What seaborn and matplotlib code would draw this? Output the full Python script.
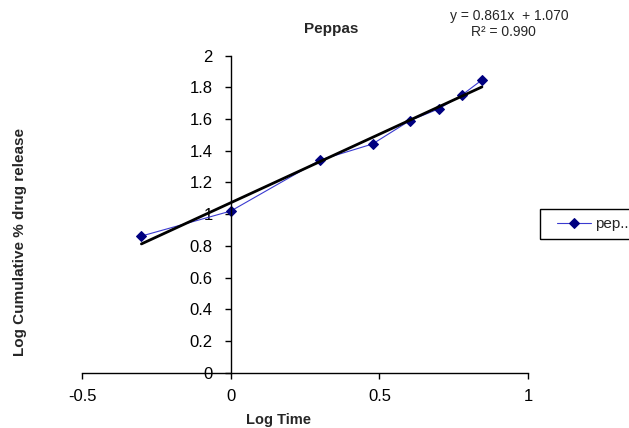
import numpy as np
import pandas as pd
import matplotlib
matplotlib.use("Agg")
import matplotlib.pyplot as plt
from matplotlib.patches import Rectangle
import seaborn as sns

# data (log of time in h, log of cumulative % released)
log_time = [-0.301, 0.0, 0.301, 0.477, 0.602, 0.699, 0.778, 0.845]
log_release = [0.862, 1.020, 1.342, 1.443, 1.590, 1.664, 1.752, 1.847]
x_ticks = [-0.5, 0, 0.5, 1]
y_ticks = [0, 0.2, 0.4, 0.6, 0.8, 1, 1.2, 1.4, 1.6, 1.8, 2]
series_name = "pep.."
eq_text = "y = 0.861x  + 1.070"
r2_text = "R² = 0.990"

df = pd.DataFrame({"log_time": log_time, "log_release": log_release})

sns.set_style("white")
plt.rcParams["font.family"] = ["Liberation Sans", "DejaVu Sans"]

fig = plt.figure(figsize=(6.29, 4.28), dpi=100)
ax = fig.add_axes([0.1308, 0.1292, 0.7086, 0.7407])

# measured series, thin line with diamonds
sns.lineplot(data=df, x="log_time", y="log_release", ax=ax, color="#3a3ad0",
             linewidth=0.8, marker="D", markersize=5.5,
             markerfacecolor="#000080", markeredgecolor="#000080")
# linear trendline fitted to the points
sns.regplot(data=df, x="log_time", y="log_release", ax=ax, scatter=False,
            ci=None, color="black", line_kws={"linewidth": 2})

ax.set_xlim(-0.5, 1)
ax.set_ylim(0, 2)
ax.set_xticks(x_ticks)
ax.set_yticks(y_ticks)
ax.set_xticklabels(["%g" % t for t in x_ticks])
ax.set_yticklabels(["%g" % t for t in y_ticks])

ax.spines["left"].set_position(("data", 0))
ax.spines["bottom"].set_position(("data", 0))
ax.spines["top"].set_visible(False)
ax.spines["right"].set_visible(False)
for s in ["left", "bottom"]:
    ax.spines[s].set_color("black")
    ax.spines[s].set_linewidth(1)
ax.tick_params(axis="both", direction="out", length=4, width=1,
               color="black", labelsize=12, labelcolor="black")
ax.tick_params(axis="x", pad=8, bottom=True)
ax.tick_params(axis="y", pad=9, left=True)

ax.set_xlabel("Log Time", fontsize=10.5, fontweight="bold")
ax.set_ylabel("Log Cumulative % drug release", fontsize=11, fontweight="bold")
ax.xaxis.label.set_verticalalignment("center")
ax.yaxis.label.set_verticalalignment("center")
ax.xaxis.set_label_coords(0.441, -0.149)
ax.yaxis.set_label_coords(-0.140, 0.411)

fig.text(331 / 629, 1 - 29 / 428, "Peppas", ha="center", va="center",
         fontsize=11, fontweight="bold")
fig.text(569 / 629, 1 - 16 / 428, eq_text, ha="right", va="center", fontsize=10)
fig.text(503 / 629, 1 - 32 / 428, r2_text, ha="center", va="center", fontsize=10)

# legend, clipped at the right edge like the original
handle = ax.get_lines()[0]
fig.legend([handle], [series_name], loc="center left",
           bbox_to_anchor=(557 / 629, 1 - 224 / 428), frameon=False,
           borderpad=0, borderaxespad=0, handlelength=2.2, handletextpad=0.3,
           fontsize=11)
fig.add_artist(Rectangle((540 / 629, 1 - 239 / 428), 100 / 629, 30 / 428,
                         transform=fig.transFigure, fill=False,
                         edgecolor="black", linewidth=1))

fig.savefig("out.png", dpi=100)
